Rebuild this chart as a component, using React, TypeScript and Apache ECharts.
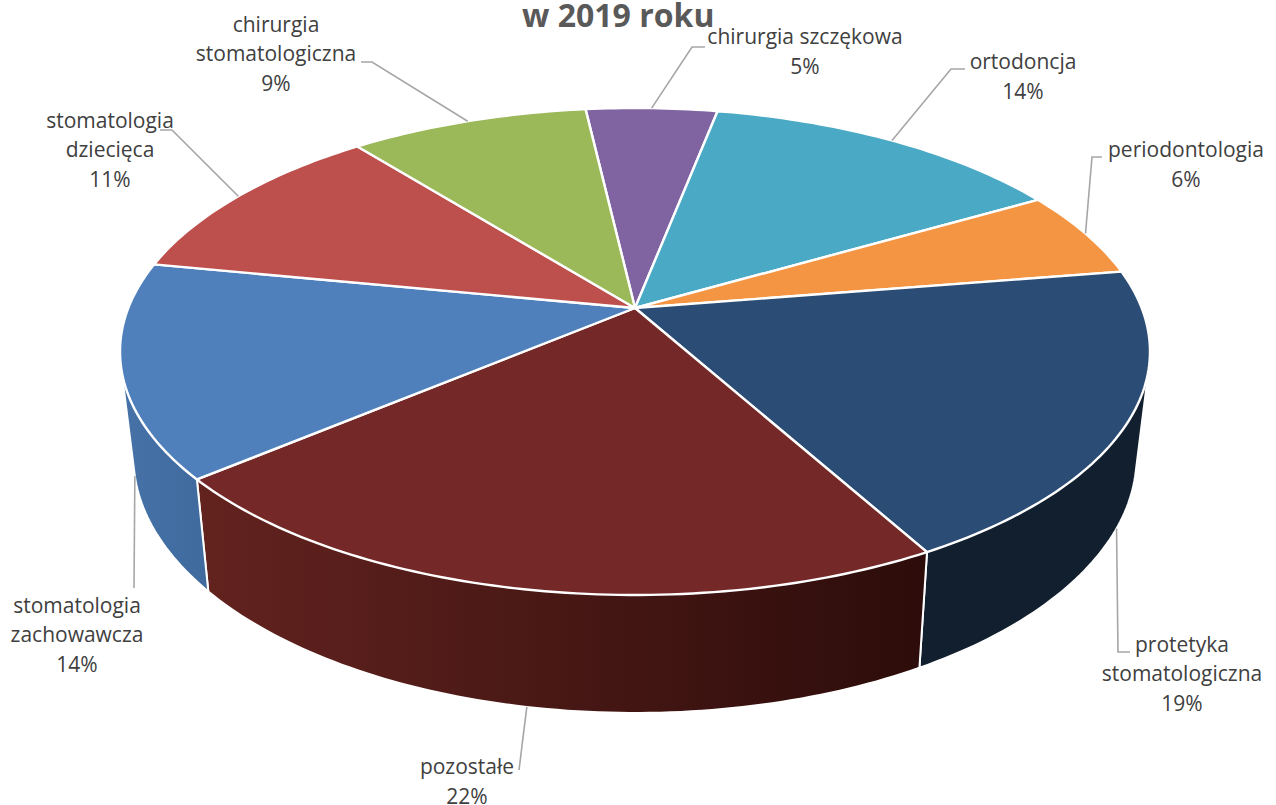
import React, { useEffect, useRef } from "react";
import * as echarts from "echarts";

const TITLE = "w 2019 roku";
const CATEGORIES = [
  "chirurgia szczękowa",
  "ortodoncja",
  "periodontologia",
  "protetyka\nstomatologiczna",
  "pozostałe",
  "stomatologia\nzachowawcza",
  "stomatologia\ndziecięca",
  "chirurgia\nstomatologiczna",
];
const VALUES = [4.9, 13.6, 5.8, 19.45, 21.95, 14.2, 11.2, 8.9];
const TOP_COLORS = ["#8064a2", "#4aa9c4", "#f49544", "#2b4c74", "#742827", "#4f80bc", "#bd4f4c", "#9bb959"];
const WALL_LEFT = ["#5f4a79", "#37809a", "#b96f34", "#121f2f", "#63231f", "#4672a8", "#8f3b39", "#748c42"];
const WALL_RIGHT = ["#5f4a79", "#37809a", "#b96f34", "#121f2f", "#2c0c0a", "#3f6a9e", "#8f3b39", "#748c42"];

// Layout: label centre and the leader's fixed points (elbow) for each slice
const LABEL_CENTER: number[][] = [
  [805, 51], [1023, 76], [1186, 164], [1182, 673], [467, 781], [77, 634], [110, 149], [276, 53],
];
const LEADER_FIXED: number[][][] = [
  [[705, 47], [692, 47]],
  [[965, 69], [951, 69]],
  [[1102, 157], [1092, 157]],
  [[1130, 652], [1118, 652]],
  [[519, 770]],
  [[134, 588]],
  [[160, 130], [172, 130]],
  [[361, 62], [372, 62]],
];
// the rim a leader ends on: 0 top disc, 1 bottom disc
const LEADER_RIM = [0, 0, 0, 1, 1, 1, 0, 0];

const START_DEG = -6.6;
const CX = 635;
const PERSPECTIVE = 0.1787;
const DISCS = [
  { rx: 506.7, sy: 235.7, cy: 308 },
  { rx: 493.5, sy: 248, cy: 411 },
];
const LABEL_FONT = "'Open Sans', sans-serif";

const total = VALUES.reduce((a, b) => a + b, 0);
const bounds: number[] = [];
{
  let acc = START_DEG;
  VALUES.forEach((v) => {
    bounds.push(acc);
    acc += (v / total) * 360;
  });
  bounds.push(acc);
}

function project(deg: number, disc: number): number[] {
  const d = DISCS[disc];
  const t = (deg * Math.PI) / 180;
  const x = Math.sin(t);
  const y = -Math.cos(t);
  const w = 1 - PERSPECTIVE * y;
  return [CX + (d.rx * x) / w, d.cy + (d.sy * y) / w];
}

function arc(a: number, b: number, disc: number): number[][] {
  const n = Math.max(2, Math.ceil(b - a));
  const out: number[][] = [];
  for (let i = 0; i <= n; i++) out.push(project(a + ((b - a) * i) / n, disc));
  return out;
}

function hull(pts: number[][]): number[][] {
  const p = [...pts].sort((u, v) => u[0] - v[0] || u[1] - v[1]);
  const cross = (o: number[], a: number[], b: number[]) =>
    (a[0] - o[0]) * (b[1] - o[1]) - (a[1] - o[1]) * (b[0] - o[0]);
  const half = (list: number[][]) => {
    const out: number[][] = [];
    for (const q of list) {
      while (out.length >= 2 && cross(out[out.length - 2], out[out.length - 1], q) <= 0) out.pop();
      out.push(q);
    }
    out.pop();
    return out;
  };
  return [...half(p), ...half([...p].reverse())];
}

export default function App() {
  const ref = useRef<HTMLDivElement>(null);
  useEffect(() => {
    document.body.style.margin = "0";
    const chart = echarts.init(ref.current!, undefined, { renderer: "svg" });
    const data = VALUES.map((value, i) => ({ name: CATEGORIES[i], value }));
    chart.setOption({
      animation: false,
      backgroundColor: "#ffffff",
      title: {
        text: TITLE,
        left: 522,
        top: 0,
        padding: 0,
        textStyle: { fontFamily: LABEL_FONT, fontSize: 32, lineHeight: 28, fontWeight: "bold", color: "#595959" },
      },
      tooltip: { show: false },
      series: [
        {
          type: "custom",
          coordinateSystem: "none",
          silent: true,
          z: 1,
          data,
          renderItem: (params: any) => {
            const i = params.dataIndex;
            const a = bounds[i];
            const b = bounds[i + 1];
            const points = hull([...arc(a, b, 0), ...arc(a, b, 1)]);
            return {
              type: "polygon",
              shape: { points },
              style: {
                fill: new echarts.graphic.LinearGradient(0, 0, 1, 0, [
                  { offset: 0, color: WALL_LEFT[i] },
                  { offset: 1, color: WALL_RIGHT[i] },
                ]),
                stroke: "#ffffff",
                lineWidth: 2,
                lineJoin: "round",
              },
            };
          },
        },
        {
          type: "custom",
          coordinateSystem: "none",
          silent: true,
          z: 2,
          data,
          renderItem: (params: any) => {
            const i = params.dataIndex;
            const apex = [CX, DISCS[0].cy];
            return {
              type: "polygon",
              shape: { points: [apex, ...arc(bounds[i], bounds[i + 1], 0)] },
              style: { fill: TOP_COLORS[i], stroke: "#ffffff", lineWidth: 2.4, lineJoin: "round" },
            };
          },
        },
        {
          type: "custom",
          coordinateSystem: "none",
          silent: true,
          z: 3,
          data,
          renderItem: (params: any) => {
            const i = params.dataIndex;
            const mid = (bounds[i] + bounds[i + 1]) / 2;
            const pct = Math.round((VALUES[i] / total) * 100);
            return {
              type: "group",
              children: [
                {
                  type: "polyline",
                  shape: { points: [...LEADER_FIXED[i], project(mid, LEADER_RIM[i])] },
                  style: { fill: "none", stroke: "#a6a6a6", lineWidth: 1.6 },
                },
                {
                  type: "text",
                  style: {
                    text: `${CATEGORIES[i]}\n${pct}%`,
                    x: LABEL_CENTER[i][0],
                    y: LABEL_CENTER[i][1],
                    align: "center",
                    verticalAlign: "middle",
                    fontFamily: LABEL_FONT,
                    fontSize: 21,
                    lineHeight: 29.5,
                    fill: "#404040",
                  },
                },
              ],
            };
          },
        },
      ],
    });
    return () => chart.dispose();
  }, []);
  return <div ref={ref} style={{ width: 1276, height: 805 }} />;
}
